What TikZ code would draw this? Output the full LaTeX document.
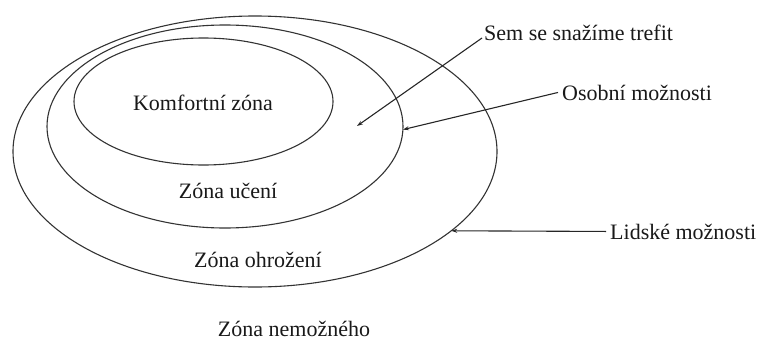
\documentclass[tikz,border=0pt]{standalone}
\usepackage{fontspec}
\setmainfont{Liberation Serif}
\usetikzlibrary{shapes.geometric,arrows.meta}
\begin{document}
\begin{tikzpicture}[x=1pt,y=1pt,
  zone/.style={draw=black!80,line width=1.1pt,ellipse,inner sep=0pt,outer sep=0pt},
  lbl/.style={font=\fontsize{22}{24}\selectfont,inner sep=0pt,text=black!90},
  ptr/.style={draw=black!85,line width=1.1pt,-{Stealth[length=6pt,width=4pt]}}]
\useasboundingbox (0,0) rectangle (760,341);
\node[zone,minimum width=484pt,minimum height=271pt] (outer) at (255,189.5) {};
\node[zone,minimum width=356pt,minimum height=203pt] (mid) at (225,214.5) {};
\node[zone,minimum width=259pt,minimum height=127pt] (inner) at (203.5,239.5) {};
\node[lbl,anchor=base] (kz) at (203,231) {Komfortní zóna};
\node[lbl,anchor=base] (zu) at (228,143) {Zóna učení};
\node[lbl,anchor=base] (zo) at (258,74) {Zóna ohrožení};
\node[lbl,anchor=base] (zn) at (294,5) {Zóna nemožného};
\node[lbl,anchor=base west] (sem) at (484,301) {Sem se snažíme trefit};
\node[lbl,anchor=base west] (osob) at (562,241) {Osobní možnosti};
\node[lbl,anchor=base west] (lid) at (610,102) {Lidské možnosti};
\coordinate (dot) at (357,215);
\draw[ptr] ([xshift=-2pt,yshift=2pt]sem.base west) -- (dot);
\draw[ptr] ([xshift=-4pt]osob.west) -- (mid.-1.8);
\draw[ptr] ([xshift=-4pt]lid.west) -- (outer.-22);
\end{tikzpicture}
\end{document}
